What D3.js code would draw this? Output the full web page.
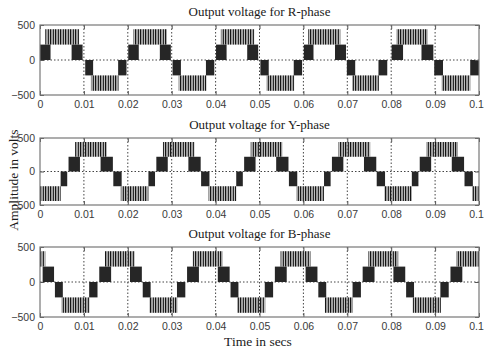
<!DOCTYPE html>
<html>
<head>
<meta charset="utf-8">
<script src="https://cdn.jsdelivr.net/npm/d3@7"></script>
<style>
  body { margin: 0; background: #fff; }
  .tick text { font-family: "Liberation Sans", Arial, sans-serif; font-size: 10.5px; fill: #3a3a3a; }
  .title { font-family: "Liberation Serif", "Times New Roman", serif; font-size: 13px; fill: #1a1a1a; }
</style>
</head>
<body>
<svg id="mainsvg" width="484" height="354"></svg>
<script>
const svg = d3.select('#mainsvg');
const width = +svg.attr('width');
const height = +svg.attr('height');

// tick values / labels
const xTicks = [0, 0.01, 0.02, 0.03, 0.04, 0.05, 0.06, 0.07, 0.08, 0.09, 0.1];
const xTickLabels = ['0', '0.01', '0.02', '0.03', '0.04', '0.05', '0.06', '0.07', '0.08', '0.09', '0.1'];
const yTicks = [-500, 0, 500];

// voltage levels of the 5-level output (volts)
const level1 = 220;
const level2 = 440;

// R-phase: time intervals (s) of each switching band
const rTop = [[0.0012, 0.0089], [0.0213, 0.0289], [0.0412, 0.0488], [0.0611, 0.0684], [0.0812, 0.0883]];
const rPos = [[0, 0.0024], [0.0072, 0.0097], [0.0201, 0.0225], [0.0273, 0.0298], [0.0401, 0.0425],
  [0.0472, 0.0497], [0.0601, 0.0623], [0.0672, 0.0697], [0.0801, 0.0827], [0.0869, 0.0896]];
const rNeg = [[0.0103, 0.0121], [0.0178, 0.0197], [0.0302, 0.0321], [0.0378, 0.0397], [0.0502, 0.0521],
  [0.0578, 0.0597], [0.0699, 0.0718], [0.0771, 0.0791], [0.0898, 0.0918], [0.098, 0.1]];
const rBot = [[0.0116, 0.0179], [0.0316, 0.0379], [0.0516, 0.0579], [0.0711, 0.0772], [0.0915, 0.098]];

// Y-phase
const yTop = [[0.008, 0.0152], [0.028, 0.0352], [0.048, 0.0552], [0.068, 0.0752], [0.088, 0.0952]];
const yPos = [[0.0065, 0.0091], [0.0138, 0.0166], [0.0265, 0.0291], [0.0338, 0.0366], [0.0465, 0.0491],
  [0.0538, 0.0566], [0.0665, 0.0691], [0.0738, 0.0766], [0.0865, 0.0891], [0.0938, 0.0966]];
const yNeg = [[0.0047, 0.0062], [0.0167, 0.0186], [0.0247, 0.0262], [0.0367, 0.0386], [0.0447, 0.0462],
  [0.0567, 0.0586], [0.0647, 0.0662], [0.0767, 0.0786], [0.0847, 0.0862], [0.0967, 0.0986]];
const yBot = [[0, 0.0047], [0.0184, 0.0247], [0.0384, 0.0447], [0.0584, 0.0647], [0.0784, 0.0847], [0.0984, 0.1]];

// B-phase
const bTop = [[0, 0.0012], [0.0148, 0.0216], [0.0348, 0.0416], [0.0548, 0.0616], [0.0748, 0.0816], [0.0948, 0.1]];
const bPos = [[0.0006, 0.0032], [0.0135, 0.0162], [0.0205, 0.0232], [0.0335, 0.0362], [0.0405, 0.0432],
  [0.0535, 0.0562], [0.0605, 0.0632], [0.0735, 0.0762], [0.0805, 0.0832], [0.0935, 0.0962]];
const bNeg = [[0.0034, 0.0052], [0.0112, 0.0131], [0.0234, 0.0252], [0.0312, 0.0331], [0.0434, 0.0452],
  [0.0512, 0.0531], [0.0634, 0.0652], [0.0712, 0.0731], [0.0834, 0.0852], [0.0912, 0.0931]];
const bBot = [[0.0049, 0.0113], [0.0249, 0.0313], [0.0449, 0.0513], [0.0649, 0.0713], [0.0849, 0.0913]];

const panels = [
  { title: 'Output voltage for R-phase', top: 25, bottom: 95, bands: [rTop, rPos, rNeg, rBot] },
  { title: 'Output voltage for Y-phase', top: 138, bottom: 205, bands: [yTop, yPos, yNeg, yBot] },
  { title: 'Output voltage for B-phase', top: 247, bottom: 317, bands: [bTop, bPos, bNeg, bBot] }
];

const left = 40, right = 479;
const xScale = d3.scaleLinear().domain([0, 0.1]).range([left, right]);

// pwm texture for the outer bands
const defs = svg.append('defs');
const pat = defs.append('pattern').attr('id', 'pwm')
  .attr('patternUnits', 'userSpaceOnUse').attr('width', 5).attr('height', 10);
[[0, 1.4, '#151515'], [1.8, 0.9, '#7a7a7a'], [3, 1.3, '#2a2a2a']]
  .forEach(s => pat.append('rect').attr('x', s[0]).attr('y', 0).attr('width', s[1]).attr('height', 10).attr('fill', s[2]));

panels.forEach(p => {
  const yScale = d3.scaleLinear().domain([-500, 500]).range([p.bottom, p.top]);
  const g = svg.append('g');

  // grid
  g.selectAll('.vgrid').data(xTicks.slice(1, -1)).join('line').attr('class', 'vgrid')
    .attr('x1', d => xScale(d)).attr('x2', d => xScale(d))
    .attr('y1', p.top).attr('y2', p.bottom)
    .attr('stroke', '#444').attr('stroke-width', 1).attr('stroke-dasharray', '1.5,2');
  g.append('line')
    .attr('x1', left).attr('x2', right).attr('y1', yScale(0)).attr('y2', yScale(0))
    .attr('stroke', '#444').attr('stroke-width', 1).attr('stroke-dasharray', '1.5,2');

  const [top, pos, neg, bot] = p.bands;
  const bandDefs = [
    { data: top, lo: level1, hi: level2, fill: 'url(#pwm)' },
    { data: bot, lo: -level2, hi: -level1, fill: 'url(#pwm)' },
    { data: pos, lo: 0, hi: level1, fill: '#262626' },
    { data: neg, lo: -level1, hi: 0, fill: '#262626' }
  ];
  bandDefs.forEach(b => {
    g.append('g').selectAll('rect').data(b.data).join('rect')
      .attr('x', d => xScale(d[0]))
      .attr('width', d => xScale(d[1]) - xScale(d[0]))
      .attr('y', yScale(b.hi))
      .attr('height', yScale(b.lo) - yScale(b.hi))
      .attr('fill', b.fill);
  });

  // axes with inward ticks
  const xAxis = d3.axisBottom(xScale).tickValues(xTicks).tickSize(-4).tickPadding(6)
    .tickFormat((d, i) => xTickLabels[i]);
  const xg = g.append('g').attr('transform', `translate(0, ${p.bottom})`).call(xAxis);
  xg.selectAll('.tick:last-of-type text').attr('dx', -3);
  g.append('g').attr('transform', `translate(0, ${p.top})`)
    .call(d3.axisTop(xScale).tickValues(xTicks).tickSize(-4).tickFormat(''));
  g.append('g').attr('transform', `translate(${left}, 0)`)
    .call(d3.axisLeft(yScale).tickValues(yTicks).tickSize(-4).tickPadding(5));
  g.append('g').attr('transform', `translate(${right}, 0)`)
    .call(d3.axisRight(yScale).tickValues(yTicks).tickSize(-4).tickFormat(''));
  g.selectAll('.domain').remove();
  g.selectAll('.tick line').attr('stroke', '#555');

  g.append('rect').attr('x', left).attr('y', p.top)
    .attr('width', right - left).attr('height', p.bottom - p.top)
    .attr('fill', 'none').attr('stroke', '#777').attr('stroke-width', 1.2);

  g.append('text').attr('class', 'title')
    .attr('x', (left + right) / 2).attr('y', p.top - 9)
    .attr('text-anchor', 'middle').text(p.title);
});

svg.append('text').attr('class', 'title').style('font-size', '13.5px')
  .attr('x', 258).attr('y', 346).attr('text-anchor', 'middle').text('Time in secs');
svg.append('text').attr('class', 'title').style('font-size', '13.5px')
  .attr('transform', 'translate(18, 180) rotate(-90)')
  .attr('text-anchor', 'middle').text('Amplitude in volts');
</script>
</body>
</html>
